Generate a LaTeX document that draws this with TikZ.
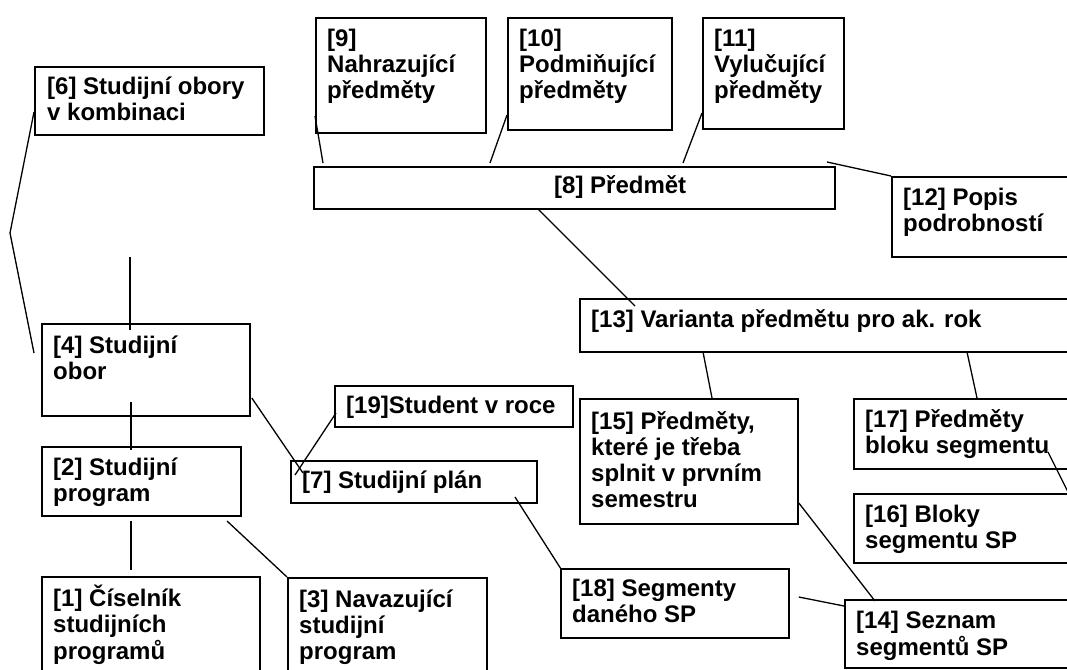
\documentclass[tikz,border=0pt]{standalone}
\usepackage{fontspec}
\setmainfont{Liberation Sans}
\usetikzlibrary{calc}
% multi-line label whose baseline is the first line's baseline
\newcommand{\rows}[1]{\begin{tabular}[t]{@{}l@{}}#1\end{tabular}}
\tikzset{
  box/.style={draw, line width=1.8pt, rectangle, inner sep=0pt, anchor=north west},
  lbl/.style={anchor=base west, inner sep=0pt, font=\fontsize{24}{26}\selectfont\bfseries},
  link/.style={line width=1.3pt}
}
\begin{document}
\begin{tikzpicture}[x=1pt, y=-1pt]
\useasboundingbox (0,0) rectangle (1067,669);
\fill[white] (0,0) rectangle (1067,669);
\clip (0,0) rectangle (1067,669);

% boxes
\node[box, minimum width=229pt, minimum height=68pt]  (b6)  at (34,66)   {};
\node[box, minimum width=170pt, minimum height=115pt] (b9)  at (315,17)  {};
\node[box, minimum width=164pt, minimum height=112pt] (b10) at (507,17)  {};
\node[box, minimum width=141pt, minimum height=111pt] (b11) at (702,17)  {};
\node[box, minimum width=521pt, minimum height=42pt]  (b8)  at (313,166) {};
\node[box, minimum width=200pt, minimum height=80pt]  (b12) at (891,176) {};
\node[box, minimum width=520pt, minimum height=53pt]  (b13) at (579,298) {};
\node[box, minimum width=208pt, minimum height=92pt]  (b4)  at (41,323)  {};
\node[box, minimum width=199pt, minimum height=69pt]  (b2)  at (41,446)  {};
\node[box, minimum width=218pt, minimum height=120pt] (b1)  at (41,576)  {};
\node[box, minimum width=199pt, minimum height=120pt] (b3)  at (287,577) {};
\node[box, minimum width=238pt, minimum height=41pt]  (b19) at (334,385) {};
\node[box, minimum width=246pt, minimum height=42pt]  (b7)  at (290,460) {};
\node[box, minimum width=228pt, minimum height=69pt]  (b18) at (560,568) {};
\node[box, minimum width=218pt, minimum height=125pt] (b15) at (579,398) {};
\node[box, minimum width=250pt, minimum height=70pt]  (b17) at (853,398) {};
\node[box, minimum width=250pt, minimum height=69pt]  (b16) at (853,493) {};
\node[box, minimum width=250pt, minimum height=68pt]  (b14) at (844,599) {};

% labels
\node[lbl] (t6)  at ($(b6.north west)+(13,28)$)  {\rows{[6] Studijní obory\\v kombinaci}};
\node[lbl] (t9)  at ($(b9.north west)+(12,29)$)  {\rows{[9]\\Nahrazující\\předměty}};
\node[lbl] (t10) at ($(b10.north west)+(12,29)$) {\rows{[10]\\Podmiňující\\předměty}};
\node[lbl] (t11) at ($(b11.north west)+(12,29)$) {\rows{[11]\\Vylučující\\předměty}};
\node[lbl] (t8)  at ($(b8.north west)+(241,27)$) {[8] Předmět};
\node[lbl] (t12) at ($(b12.north west)+(12,29)$) {\rows{[12] Popis\\podrobností}};
\node[lbl] (t13) at ($(b13.north west)+(12,29)$) {[13] Varianta předmětu pro ak. rok};
\node[lbl] (t4)  at ($(b4.north west)+(12,30)$)  {\rows{[4] Studijní\\obor}};
\node[lbl] (t2)  at ($(b2.north west)+(12,29)$)  {\rows{[2] Studijní\\program}};
\node[lbl] (t1)  at ($(b1.north west)+(12,30)$)  {\rows{[1] Číselník\\studijních\\programů}};
\node[lbl] (t3)  at ($(b3.north west)+(12,30)$)  {\rows{[3] Navazující\\studijní\\program}};
\node[lbl] (t19) at ($(b19.north west)+(12,28)$) {[19]Student v roce};
\node[lbl] (t7)  at ($(b7.north west)+(12,28)$)  {[7] Studijní plán};
\node[lbl] (t18) at ($(b18.north west)+(12,28)$) {\rows{[18] Segmenty\\daného SP}};
\node[lbl] (t15) at ($(b15.north west)+(12,31)$) {\rows{[15] Předměty,\\které je třeba\\splnit v prvním\\semestru}};
\node[lbl] (t17) at ($(b17.north west)+(12,29)$) {\rows{[17] Předměty\\bloku segmentu}};
\node[lbl] (t16) at ($(b16.north west)+(12,29)$) {\rows{[16] Bloky\\segmentu SP}};
\node[lbl] (t14) at ($(b14.north west)+(12,29)$) {\rows{[14] Seznam\\segmentů SP}};

% connectors
\coordinate (top4) at (130,257);
\draw[link] ($(b6.north west)+(0,46)$) -- ($(b6.north west)+(-24,167)$) -- ($(b4.north west)+(-7,30)$);
\draw[link] (top4) -- ($(b4.north west)+(89,7)$);
\draw[link] ($(b4.north west)+(90,79)$) -- ($(b2.north west)+(90,4)$);
\draw[link] ($(b2.north west)+(90,75)$) -- ($(b1.north west)+(90,-6)$);
\draw[link] ($(b2.north west)+(186,75)$) -- (b3.north west);
\draw[link] ($(b4.north east)+(1,75)$) -- ($(b7.north west)+(13,13)$);
\draw[link] ($(b19.north west)+(2,28)$) -- ($(b7.north west)+(5,15)$);
\draw[link] ($(b7.north west)+(225,37)$) -- ($(b18.north west)+(1,1)$);
\draw[link] ($(b9.north west)+(0,99)$) -- ($(b8.north west)+(10,-3)$);
\draw[link] ($(b10.north west)+(0,98)$) -- ($(b8.north west)+(177,-3)$);
\draw[link] ($(b11.north west)+(0,96)$) -- ($(b8.north west)+(370,-3)$);
\draw[link] ($(b8.north west)+(514,-4)$) -- (b12.north west);
\draw[link] ($(b8.north west)+(225,43)$) -- ($(b13.north west)+(56,8)$);
\draw[link] ($(b13.north west)+(124,54)$) -- ($(b15.north west)+(133,0)$);
\draw[link] ($(b13.north west)+(388,54)$) -- ($(b17.north west)+(124,0)$);
\draw[link] ($(b17.north west)+(195,54)$) -- ($(b16.north west)+(217,3)$);
\draw[link] ($(b15.north east)+(0,105)$) -- ($(b14.north west)+(31,2)$);
\draw[link] ($(b18.north east)+(9,29)$) -- ($(b14.north west)+(0,7)$);
\end{tikzpicture}
\end{document}
